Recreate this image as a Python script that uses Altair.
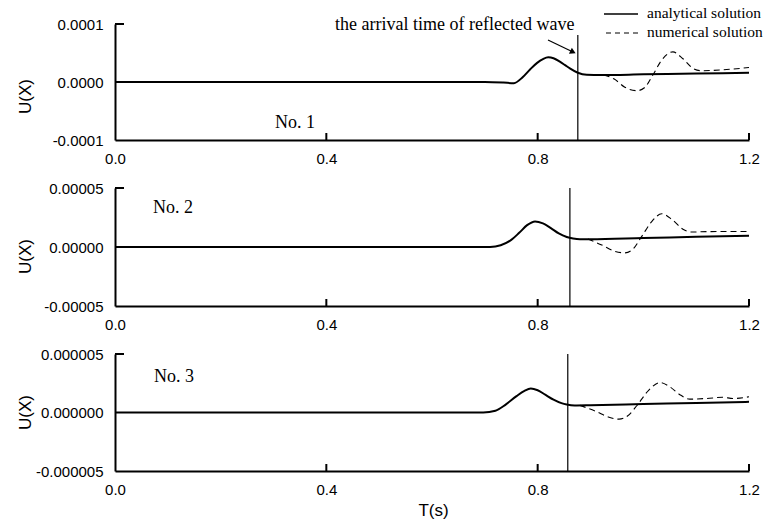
import altair as alt
import pandas as pd

# ---------------- data ----------------
# Panel 1 (No. 1), values in 1e-5
t_a1 = [0.0, 0.70, 0.735, 0.755, 0.772, 0.786, 0.799, 0.81, 0.82, 0.83, 0.842, 0.852, 0.861, 0.876, 0.893, 0.92, 1.0, 1.1, 1.2]
u_a1 = [0.0, 0.0, -0.1, -0.2, 0.86, 2.2, 3.3, 3.95, 4.26, 4.1, 3.5, 2.9, 2.36, 1.6, 1.25, 1.2, 1.32, 1.46, 1.6]
t_n1 = [0.925, 0.945, 0.965, 0.988, 1.002, 1.018, 1.035, 1.056, 1.075, 1.095, 1.11, 1.15, 1.2]
u_n1 = [1.22, 0.5, -0.9, -1.5, -1.0, 1.2, 3.8, 5.2, 4.0, 2.3, 1.95, 2.1, 2.5]

# Panel 2 (No. 2), values in 1e-5
t_a2 = [0.0, 0.71, 0.73, 0.75, 0.765, 0.78, 0.795, 0.81, 0.825, 0.84, 0.855, 0.867, 0.88, 0.9, 1.0, 1.1, 1.2]
u_a2 = [0.0, 0.0, 0.15, 0.6, 1.2, 1.85, 2.17, 2.0, 1.6, 1.15, 0.85, 0.72, 0.66, 0.66, 0.76, 0.86, 0.96]
t_n2 = [0.895, 0.92, 0.945, 0.965, 0.98, 0.997, 1.015, 1.035, 1.055, 1.075, 1.09, 1.12, 1.2]
u_n2 = [0.67, 0.2, -0.35, -0.5, -0.2, 0.9, 2.1, 2.82, 2.3, 1.5, 1.27, 1.3, 1.32]

# Panel 3 (No. 3), values in 1e-6
t_a3 = [0.0, 0.697, 0.72, 0.74, 0.76, 0.775, 0.787, 0.80, 0.815, 0.83, 0.845, 0.855, 0.87, 0.9, 1.0, 1.1, 1.2]
u_a3 = [0.0, 0.0, 0.15, 0.7, 1.4, 1.85, 2.05, 1.9, 1.5, 1.1, 0.8, 0.68, 0.6, 0.62, 0.72, 0.82, 0.91]
t_n3 = [0.88, 0.91, 0.935, 0.954, 0.97, 0.988, 1.01, 1.032, 1.05, 1.07, 1.088, 1.12, 1.15, 1.17, 1.2]
u_n3 = [0.61, 0.1, -0.4, -0.57, -0.3, 0.6, 1.9, 2.56, 2.2, 1.5, 1.14, 1.2, 1.3, 1.2, 1.34]

units = [1e-5, 1e-5, 1e-6]
y_limits = [1e-4, 5e-5, 5e-6]
y_formats = [".4f", ".5f", ".6f"]
arrival_times = [0.876, 0.861, 0.857]
panel_labels = ["No. 1", "No. 2", "No. 3"]
x_ticks = [0.0, 0.4, 0.8, 1.2]
series_names = ["analytical solution", "numerical solution"]
annotation = "the arrival time of reflected wave"

# ---------------- layout / style ----------------
W = 634
heights = [116, 118, 117]
label_pos = [(160, 104), (38, 25), (39, 28)]
title_y = [72, 68, 58]
SANS = "Liberation Sans"
SERIF = "Liberation Serif"

t_a = [t_a1, t_a2, t_a3]
u_a = [u_a1, u_a2, u_a3]
t_n = [t_n1, t_n2, t_n3]
u_n = [u_n1, u_n2, u_n3]

one = pd.DataFrame({"k": [0]})


def panel(i):
    H = heights[i]
    L = y_limits[i]
    fmt = y_formats[i]
    ana = pd.DataFrame({"t": t_a[i], "u": [v * units[i] for v in u_a[i]]})
    num = pd.DataFrame({"t": t_n[i], "u": [v * units[i] for v in u_n[i]]})

    last = i == 2
    xaxis = alt.Axis(
        values=x_ticks, format=".1f", labelFlush=False, labelOverlap=False,
        ticks=False, tickSize=0, labelPadding=11, grid=False,
        domainColor="black", domainWidth=2,
        labelFont=SANS, labelFontSize=15, labelColor="black",
        title="T(s)" if last else "", titleX=318, titleY=39,
        titleFont=SANS, titleFontSize=17, titleColor="black", titleFontWeight="normal",
        titleBaseline="middle", titleAlign="center",
    )
    yaxis = alt.Axis(
        values=[-L, 0, L],
        labelExpr=f"datum.value < 0 ? '-' + format(-datum.value, '{fmt}') : format(datum.value, '{fmt}')",
        labelFlush=False, labelOverlap=False, ticks=False, tickSize=0,
        labelPadding=12, grid=False,
        domainColor="black", domainWidth=2,
        labelFont=SANS, labelFontSize=15, labelColor="black", labelBaseline="middle",
        title="U(X)", titleX=-90, titleY=title_y[i],
        titleFont=SANS, titleFontSize=17, titleColor="black", titleFontWeight="normal",
        titleBaseline="middle", titleAlign="center", titleAngle=270,
    )
    xs = alt.Scale(domain=[0, 1.2], nice=False, zero=False)
    ys = alt.Scale(domain=[-L, L], nice=False, zero=False)
    X = alt.X("t:Q", scale=xs, axis=xaxis)
    Y = alt.Y("u:Q", scale=ys, axis=yaxis)

    numerical = alt.Chart(num).mark_line(
        color="black", strokeWidth=1.1, strokeDash=[6, 4], interpolate="monotone"
    ).encode(x=X, y=Y)
    analytical = alt.Chart(ana).mark_line(
        color="black", strokeWidth=2, interpolate="monotone"
    ).encode(x=X, y=Y)

    vline = alt.Chart(pd.DataFrame({"t": [arrival_times[i]]})).mark_rule(
        color="black", strokeWidth=1.2
    ).encode(x=X, y=alt.value(11 if i == 0 else 0), y2=alt.value(H))

    xt = alt.Chart(pd.DataFrame({"t": x_ticks[1:]})).mark_rule(
        color="black", strokeWidth=2
    ).encode(x=X, y=alt.value(H - 7), y2=alt.value(H))
    yt = alt.Chart(pd.DataFrame({"u": [L]})).mark_rule(
        color="black", strokeWidth=2
    ).encode(y=Y, x=alt.value(0), x2=alt.value(9))

    lab = alt.Chart(pd.DataFrame({"s": [panel_labels[i]]})).mark_text(
        font=SERIF, fontSize=18, align="left", baseline="alphabetic", color="black"
    ).encode(text="s:N", x=alt.value(label_pos[i][0]), y=alt.value(label_pos[i][1]))

    layers = [numerical, analytical, vline, xt, yt, lab]

    if i == 0:
        # invisible frame that fixes the top-left / right extent of the page
        frame = alt.Chart(one).mark_rule(strokeWidth=1, opacity=0).encode(
            x=alt.value(-114.5), x2=alt.value(653.5), y=alt.value(-23.5)
        )
        ann = alt.Chart(pd.DataFrame({"s": [annotation]})).mark_text(
            font=SERIF, fontSize=18, align="left", baseline="alphabetic", color="black"
        ).encode(text="s:N", x=alt.value(220), y=alt.value(6))
        arrow = alt.Chart(one).mark_rule(
            color="black", strokeWidth=1.2
        ).encode(x=alt.value(433), y=alt.value(16), x2=alt.value(458), y2=alt.value(28))
        head = alt.Chart(one).mark_point(
            shape="triangle-right", filled=True, color="black", size=45, angle=26, opacity=1
        ).encode(x=alt.value(458), y=alt.value(28))
        leg = pd.DataFrame({"s": series_names})
        leg_solid = alt.Chart(one).mark_rule(
            color="black", strokeWidth=1.6
        ).encode(x=alt.value(489), x2=alt.value(523), y=alt.value(-10))
        leg_dash = alt.Chart(one).mark_rule(
            color="black", strokeWidth=1.1, strokeDash=[5, 4]
        ).encode(x=alt.value(491), x2=alt.value(523), y=alt.value(9))
        leg_text1 = alt.Chart(leg.iloc[[0]]).mark_text(
            font=SERIF, fontSize=15.5, align="left", baseline="alphabetic", color="black"
        ).encode(text="s:N", x=alt.value(532), y=alt.value(-6))
        leg_text2 = alt.Chart(leg.iloc[[1]]).mark_text(
            font=SERIF, fontSize=15.5, align="left", baseline="alphabetic", color="black"
        ).encode(text="s:N", x=alt.value(532), y=alt.value(13))
        layers = [frame] + layers + [ann, arrow, head, leg_solid, leg_dash, leg_text1, leg_text2]

    if last:
        frame_b = alt.Chart(one).mark_rule(strokeWidth=1, opacity=0).encode(
            x=alt.value(0), x2=alt.value(10), y=alt.value(H + 52.5)
        )
        layers = layers + [frame_b]

    return alt.layer(*layers).properties(width=W, height=H)


chart = alt.vconcat(panel(0), panel(1), panel(2), spacing=48, bounds="flush").properties(
    padding=0, background="white",
).configure_view(stroke=None)

chart.save("out.html", embed_options={"renderer": "svg", "actions": False})
